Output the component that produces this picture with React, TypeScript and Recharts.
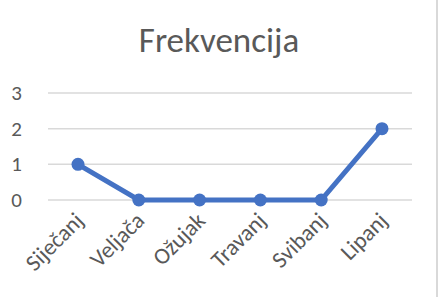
import { LineChart, Line, XAxis, YAxis, CartesianGrid } from 'recharts';

const months = ['Siječanj', 'Veljača', 'Ožujak', 'Travanj', 'Svibanj', 'Lipanj'];
const frequency = [1, 0, 0, 0, 0, 2];
const yTicks = [0, 1, 2, 3];

const data = months.map((month, i) => ({ month, value: frequency[i] }));

const FONT = 'Carlito, "Open Sans", "Liberation Sans", sans-serif';
const TEXT = '#595959';

function MonthTick({ x, y, payload }: any) {
  const ax = x + 7;
  const ay = y + 16;
  return (
    <text
      x={ax}
      y={ay}
      textAnchor="end"
      fill={TEXT}
      fontSize={23}
      fontFamily={FONT}
      transform={`rotate(-45, ${ax}, ${ay})`}
    >
      {payload.value}
    </text>
  );
}

function ValueTick({ x, y, payload }: any) {
  return (
    <text x={x - 2} y={y} dy={7} textAnchor="end" fill={TEXT} fontSize={21} fontFamily={FONT}>
      {payload.value}
    </text>
  );
}

export default function App() {
  return (
    <div style={{ position: 'absolute', left: 0, top: 0, width: 440, height: 297, background: '#fff', fontFamily: FONT }}>
      <div style={{
        position: 'absolute', left: 0, top: 20, width: 438, textAlign: 'center',
        fontSize: 35, color: TEXT, lineHeight: '40px',
      }}>
        Frekvencija
      </div>
      <div style={{ position: 'absolute', left: 436, top: 0, width: 2, height: 297, background: '#d9d9d9' }} />
      <LineChart
        width={440}
        height={297}
        data={data}
        margin={{ top: 93, right: 28, left: 0, bottom: 0 }}
      >
        <CartesianGrid vertical={false} stroke="#d9d9d9" strokeWidth={1.5} />
        <XAxis
          dataKey="month"
          height={97}
          axisLine={false}
          tickLine={false}
          interval={0}
          padding={{ left: 30, right: 30 }}
          tickMargin={0}
          tick={<MonthTick />}
        />
        <YAxis
          width={48}
          domain={[0, 3]}
          ticks={yTicks}
          axisLine={false}
          tickLine={false}
          tickMargin={18}
          tick={<ValueTick />}
        />
        <Line
          type="linear"
          dataKey="value"
          stroke="#4472C4"
          strokeWidth={5}
          dot={{ r: 6.5, fill: '#4472C4', stroke: '#4472C4', strokeWidth: 0 }}
          isAnimationActive={false}
        />
      </LineChart>
    </div>
  );
}
